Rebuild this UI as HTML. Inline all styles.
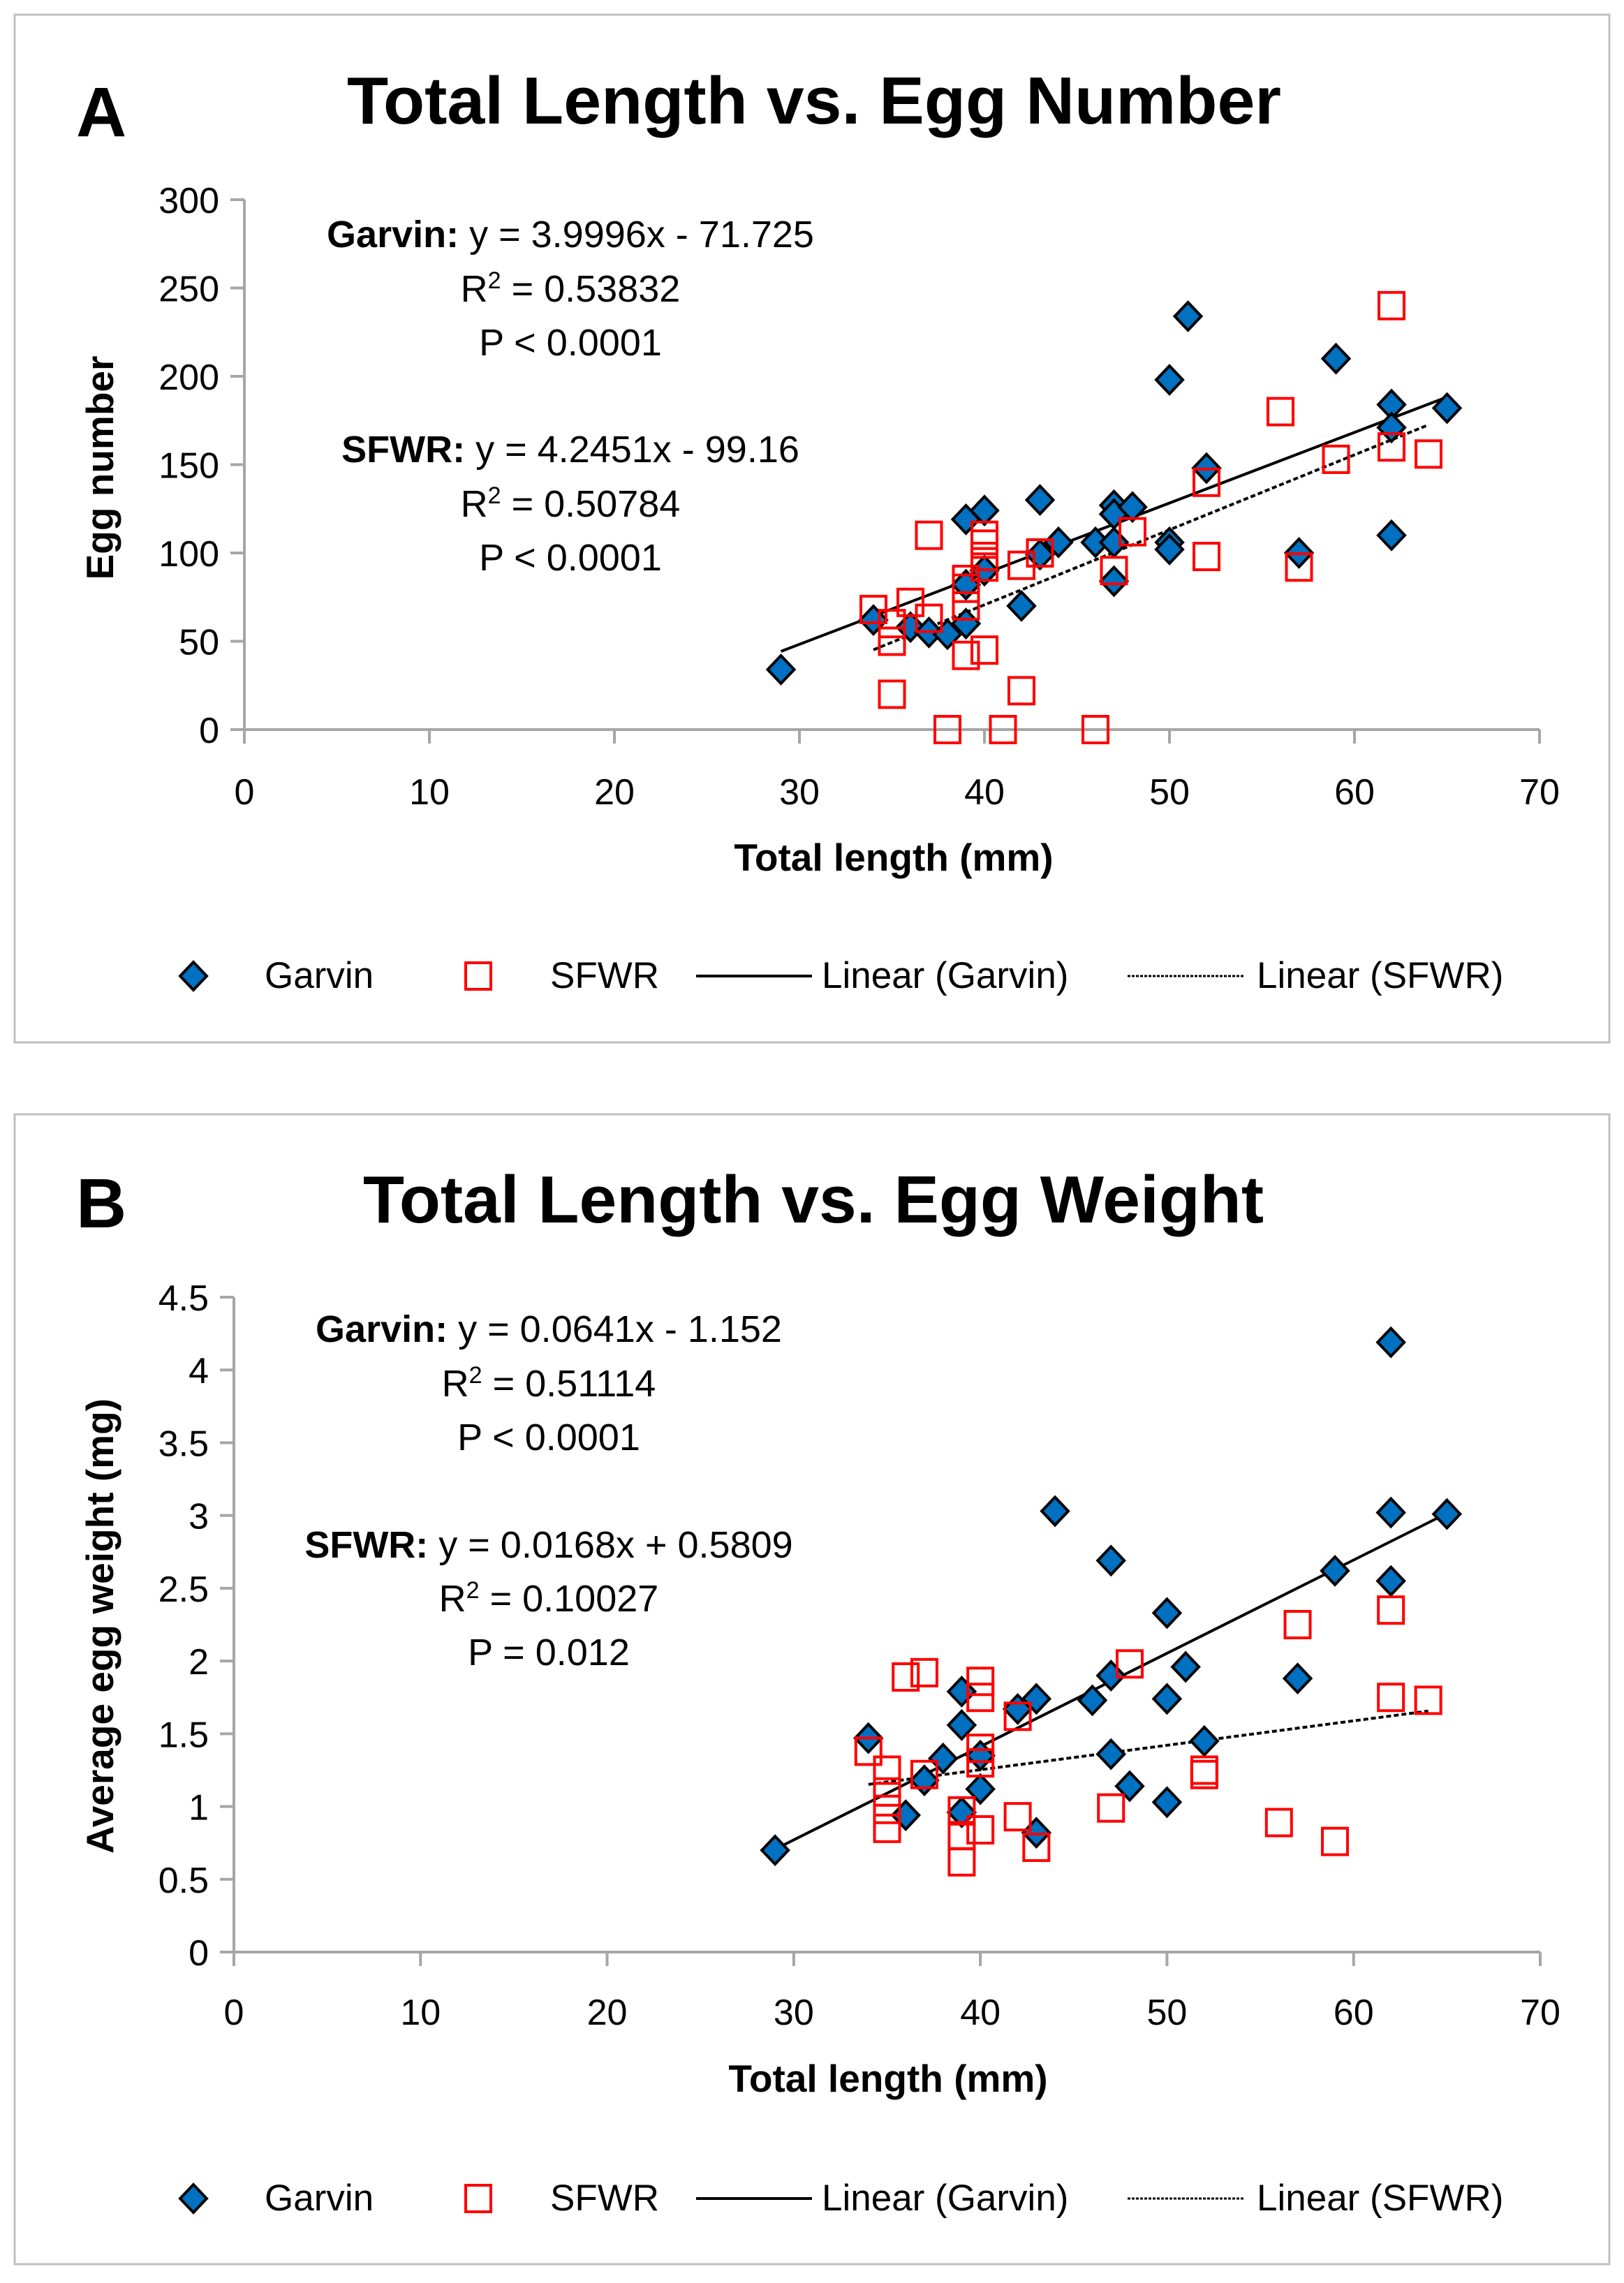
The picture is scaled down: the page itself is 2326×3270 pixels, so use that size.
<!DOCTYPE html>
<html><head><meta charset="utf-8"><style>
html,body{margin:0;padding:0;background:#fff}
svg{display:block}
text{font-family:"Liberation Sans",sans-serif;fill:#000}
</style></head><body>
<svg id="fig" width="2326" height="3270" viewBox="0 0 2326 3270" xmlns="http://www.w3.org/2000/svg">
<rect x="21" y="21" width="2284" height="1472" fill="#fff" stroke="#bfbfbf" stroke-width="3"/>
<rect x="21" y="1596" width="2284" height="1647" fill="#fff" stroke="#bfbfbf" stroke-width="3"/>
<g id="ga"></g>
<g id="gb"></g>
</svg>
<script>
const xTicks=[0,10,20,30,40,50,60,70];
const yTicksA=[0,50,100,150,200,250,300];
const yTicksB=[0,0.5,1,1.5,2,2.5,3,3.5,4,4.5];
const garvinLenA=[29,34,36,37,38,39,39,39,40,40,42,43,43,44,46,47,47,47,47,48,50,50,50,51,52,57,59,62,62,62,65];
const garvinEggA=[34,62,58,55,54,60,82,119,124,90,70,130,99,106,106,127,122,106,84,126,198,106,102,234,148,100,210,184,171,110,182];
const sfwrLenA=[34,35,35,35,36,37,37,38,39,39,39,39,40,40,40,40,40,41,42,42,43,46,47,48,52,52,56,57,59,62,62,64];
const sfwrEggA=[68,60,50,20,72,110,63,0,85,80,70,42,110,105,98,92,45,0,93,22,100,0,90,112,140,98,180,92,153,240,160,156];
const garvinLenB=[29,34,36,37,38,39,39,39,40,40,42,43,43,44,46,47,47,47,48,50,50,50,51,52,57,59,62,62,62,65];
const garvinWtB=[0.7,1.47,0.94,1.18,1.33,1.79,1.56,0.96,1.35,1.12,1.67,1.74,0.82,3.03,1.73,2.69,1.9,1.36,1.14,2.33,1.74,1.03,1.96,1.45,1.88,2.62,4.19,3.02,2.55,3.01];
const sfwrLenB=[34,35,35,35,35,36,37,37,39,39,39,40,40,40,40,40,42,42,43,47,48,52,52,56,57,59,62,62,64];
const sfwrWtB=[1.38,1.25,1.1,0.98,0.85,1.89,1.92,1.22,0.97,0.8,0.62,1.86,1.75,1.4,1.3,0.84,1.62,0.93,0.72,0.99,1.98,1.25,1.22,0.89,2.25,0.76,2.35,1.75,1.73];
const fitA={g:[3.9996,-71.725],s:[4.2451,-99.16]};
const fitB={g:[0.0641,-1.152],s:[0.0168,0.5809]};
const NS="http://www.w3.org/2000/svg";
function mk(p,tag,at,txt){const e=document.createElementNS(NS,tag);for(const k in at)e.setAttribute(k,at[k]);if(txt!==undefined)e.textContent=txt;p.appendChild(e);return e;}
function diamond(p,cx,cy){return mk(p,'polygon',{points:`${cx},${cy-20} ${cx+19},${cy} ${cx},${cy+20} ${cx-19},${cy}`,fill:'#0070c0',stroke:'#000','stroke-width':4});}
function square(p,cx,cy){return mk(p,'rect',{x:cx-18,y:cy-19,width:36,height:38,fill:'none',stroke:'#ff0000','stroke-width':4});}
function chart(g,o){
 const X=v=>o.x0+(o.x1-o.x0)*v/70;
 const Y=v=>o.y0-(o.y0-o.y1)*v/o.ymax;
 let e;
 e=mk(g,'text',{x:109,y:o.letY,'font-size':100,'font-weight':'bold'},o.letter);
 
 e=mk(g,'text',{x:o.tx0,y:o.titleY,'font-size':96,'font-weight':'bold',textLength:o.tx1-o.tx0,lengthAdjust:'spacingAndGlyphs'},o.title);
 
 e=mk(g,'line',{x1:o.x0,y1:o.y1,x2:o.x0,y2:o.y0,stroke:'#a6a6a6','stroke-width':4});
 
 e=mk(g,'line',{x1:o.x0-20,y1:o.y0,x2:o.x1,y2:o.y0,stroke:'#a6a6a6','stroke-width':4});
 
 o.yTicks.forEach(t=>{
  e=mk(g,'line',{x1:o.x0-20,y1:Y(t),x2:o.x0,y2:Y(t),stroke:'#a6a6a6','stroke-width':4});
  
  e=mk(g,'text',{x:o.x0-36,y:Y(t)+19,'font-size':52,'text-anchor':'end'},String(t));
  
 });
 xTicks.forEach(t=>{
  e=mk(g,'line',{x1:X(t),y1:o.y0,x2:X(t),y2:o.y0+20,stroke:'#a6a6a6','stroke-width':4});
  
  e=mk(g,'text',{x:X(t),y:o.xlabY,'font-size':52,'text-anchor':'middle'},String(t));
  
 });
 e=mk(g,'text',{x:o.xtX,y:o.xtY,'font-size':55,'font-weight':'bold','text-anchor':'middle'},'Total length (mm)');
 
 e=mk(g,'text',{x:0,y:0,'font-size':55,'font-weight':'bold','text-anchor':'middle',transform:`translate(162,${o.ytY}) rotate(-90)`},o.ytitle);
 
 o.ann.forEach((a,i)=>{
  e=mk(g,'text',{x:o.annX,y:a[1],'font-size':54,'text-anchor':'middle'});
  if(a[2]){mk(e,'tspan',{'font-weight':'bold'},a[2]);mk(e,'tspan',{},a[0]);}
  else if(a[0].startsWith('R2')){mk(e,'tspan',{},'R');mk(e,'tspan',{'font-size':34,dy:-19},'2');mk(e,'tspan',{dy:19},a[0].slice(2));}
  else e.textContent=a[0];
  
 });
 const gl=o.gLen, sl=o.sLen;
 const gmin=Math.min(...gl),gmax=Math.max(...gl),smin=Math.min(...sl),smax=Math.max(...sl);
 e=mk(g,'line',{x1:X(gmin),y1:Y(o.fit.g[0]*gmin+o.fit.g[1]),x2:X(gmax),y2:Y(o.fit.g[0]*gmax+o.fit.g[1]),stroke:'#000','stroke-width':4});
 
 e=mk(g,'line',{x1:X(smin),y1:Y(o.fit.s[0]*smin+o.fit.s[1]),x2:X(smax),y2:Y(o.fit.s[0]*smax+o.fit.s[1]),stroke:'#000','stroke-width':4,'stroke-dasharray':'7,4'});
 
 gl.forEach((v,i)=>{e=diamond(g,X(v),Y(o.gVal[i]));
  });
 sl.forEach((v,i)=>{e=square(g,X(v),Y(o.sVal[i]));
  });
 const ly=o.legY, cy=ly-17;
 e=diamond(g,277,cy);
 e=mk(g,'text',{x:379,y:ly,'font-size':53},'Garvin');
 e=square(g,685,cy);
 e=mk(g,'text',{x:788,y:ly,'font-size':53},'SFWR');
 e=mk(g,'line',{x1:997,y1:cy,x2:1163,y2:cy,stroke:'#000','stroke-width':4});
 e=mk(g,'text',{x:1177,y:ly,'font-size':53},'Linear (Garvin)');
 e=mk(g,'line',{x1:1615,y1:cy,x2:1783,y2:cy,stroke:'#000','stroke-width':3,'stroke-dasharray':'4,2'});
 e=mk(g,'text',{x:1800,y:ly,'font-size':53},'Linear (SFWR)');
}
chart(document.getElementById('ga'),{letter:'A',letY:195,title:'Total Length vs. Egg Number',tx0:497,tx1:1835,titleY:177,
 x0:350,x1:2205,y0:1045,y1:286,ymax:300,yTicks:yTicksA,xlabY:1152,xtX:1280,xtY:1247,ytY:670,ytitle:'Egg number',
 annX:817,ann:[[' y = 3.9996x - 71.725',354,'Garvin:'],['R2 = 0.53832',432],['P < 0.0001',509],[' y = 4.2451x - 99.16',662,'SFWR:'],['R2 = 0.50784',740],['P < 0.0001',817]],
 gLen:garvinLenA,gVal:garvinEggA,sLen:sfwrLenA,sVal:sfwrEggA,fit:fitA,legY:1415});
chart(document.getElementById('gb'),{letter:'B',letY:1758,title:'Total Length vs. Egg Weight',tx0:520,tx1:1810,titleY:1751,
 x0:335,x1:2206,y0:2796,y1:1858,ymax:4.5,yTicks:yTicksB,xlabY:2900,xtX:1272,xtY:2996,ytY:2329,ytitle:'Average egg weight (mg)',
 annX:786,ann:[[' y = 0.0641x - 1.152',1922,'Garvin:'],['R2 = 0.51114',2000],['P < 0.0001',2077],[' y = 0.0168x + 0.5809',2231,'SFWR:'],['R2 = 0.10027',2308],['P = 0.012',2385]],
 gLen:garvinLenB,gVal:garvinWtB,sLen:sfwrLenB,sVal:sfwrWtB,fit:fitB,legY:3166});
</script>
</body></html>
